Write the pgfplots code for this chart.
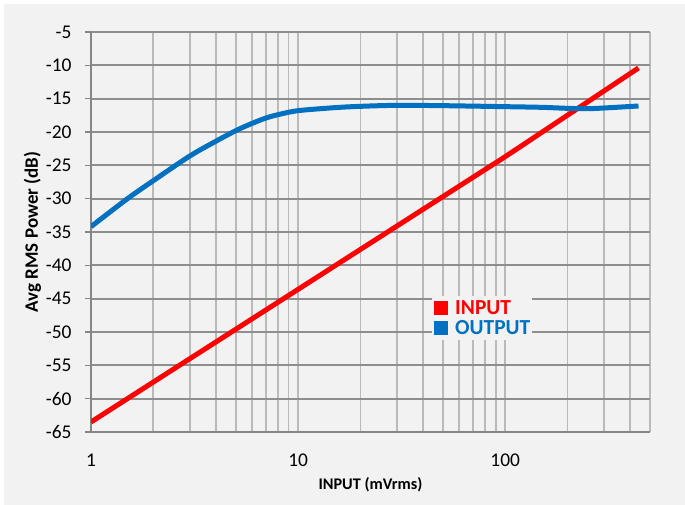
\documentclass[border=0pt]{standalone}
\usepackage{pgfplots}
\pgfplotsset{compat=1.18}
\usepackage{fontspec}
\setmainfont{Carlito}
\definecolor{bgray}{HTML}{F2F2F2}
\definecolor{hgrid}{HTML}{8E8E8E}
\definecolor{vgrid}{HTML}{BABABA}
\definecolor{axgray}{HTML}{868686}
\definecolor{inred}{HTML}{FF0000}
\definecolor{outblue}{HTML}{0070C0}
\begin{document}
\begin{tikzpicture}
\fill[white] (0,0) rectangle (685bp,505bp);
\fill[bgray] (4bp,0) rectangle (685bp,501bp);
\useasboundingbox (0,0) rectangle (685bp,505bp);
\begin{axis}[
  at={(91bp,73bp)}, anchor=south west,
  scale only axis, width=559bp, height=400bp,
  xmode=log, xmin=1, xmax=500,
  ymin=-65, ymax=-5,
  xtick={1,10,100}, xticklabels={1,10,100},
  minor xtick={2,3,4,5,6,7,8,9,20,30,40,50,60,70,80,90,200,300,400,500},
  ytick={-65,-60,...,-5},
  yticklabels={-65,-60,-55,-50,-45,-40,-35,-30,-25,-20,-15,-10,-5},
  axis background/.style={fill=bgray},
  xmajorgrids, xminorgrids, ymajorgrids,
  major x grid style={vgrid, line width=1.7bp},
  minor x grid style={vgrid, line width=1.7bp},
  major y grid style={hgrid, line width=1.7bp},
  axis x line*=bottom, axis y line*=left,
  axis line style={-, axgray, line width=1.7bp},
  xtick style={draw=none}, minor tick style={draw=none},
  ytick style={axgray, line width=1.6bp},
  tick align=outside, major tick length=6bp,
  ytick pos=left,
  ticklabel style={font=\fontsize{19.5}{22}\selectfont},
  xticklabel style={yshift=-12bp},
  yticklabel style={xshift=-10bp},
  xlabel={\textbf{INPUT (mVrms)}},
  ylabel={\textbf{Avg RMS Power (dB)}},
  xlabel style={font=\fontsize{16.3}{18}\selectfont, yshift=-4bp},
  ylabel style={font=\fontsize{19}{21}\selectfont, yshift=-2bp},
  legend style={draw=none, fill=bgray, at={(0.61,0.34)}, anchor=north west,
    font=\bfseries\fontsize{21.5}{23}\selectfont, inner xsep=2bp, inner ysep=4bp,
    row sep=3bp, cells={anchor=west},
    nodes={inner xsep=0bp, inner ysep=0.5bp}},
  legend cell align=left,
  legend image code/.code={\fill[#1, draw=none] (0bp,-7bp) rectangle (14bp,7bp);},
]
\addplot[inred, line width=5bp] coordinates {
(1,-63.5) (10,-43.6) (100,-23.7) (440,-10.4)};
\addlegendentry{\hspace{7bp}\textcolor{inred}{INPUT}\hspace{14bp}}
\addplot[outblue, line width=5bp, smooth] coordinates {
(1,-34.2) (1.5,-30.0) (2,-27.3) (3,-23.6) (4,-21.4) (5,-19.8) (6,-18.7) (7,-17.9) (8,-17.4) (10,-16.8) (15,-16.35) (20,-16.15) (30,-16.0) (50,-16.05) (100,-16.2) (150,-16.3) (200,-16.45) (250,-16.5) (300,-16.4) (440,-16.1)};
\addlegendentry{\hspace{7bp}\textcolor{outblue}{OUTPUT}\hspace{14bp}}
\end{axis}
\end{tikzpicture}
\end{document}
